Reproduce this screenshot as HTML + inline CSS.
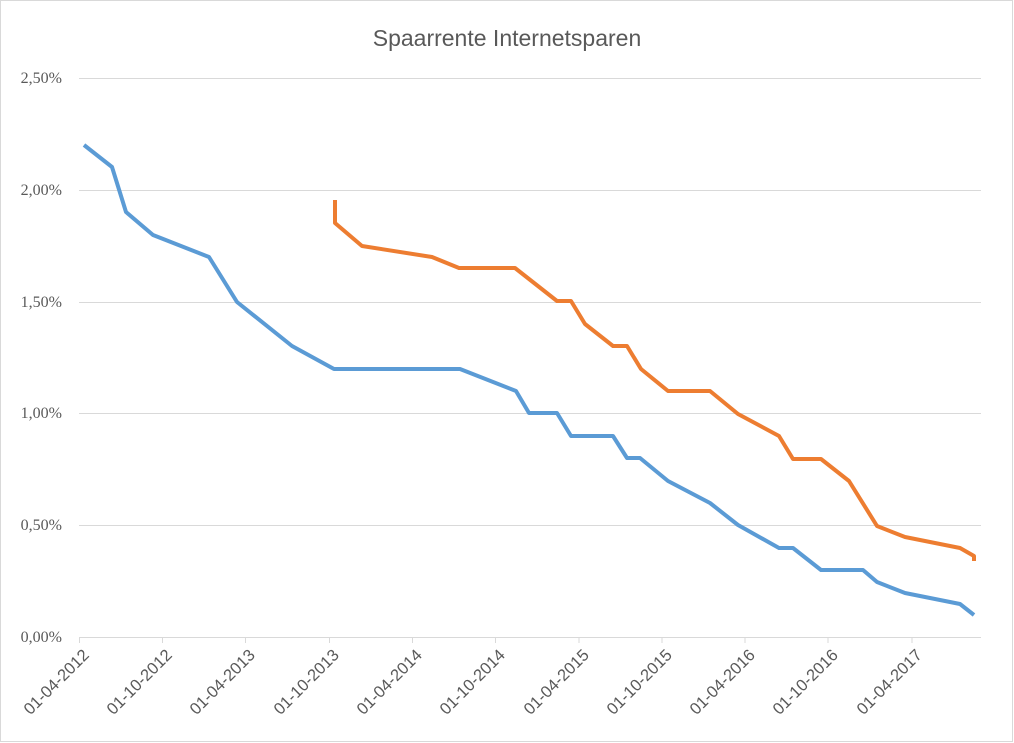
<!DOCTYPE html>
<html><head><meta charset="utf-8"><style>
body{margin:0;background:#fff;}
svg{display:block}
</style></head><body>
<svg width="1014" height="743" viewBox="0 0 1014 743" xmlns="http://www.w3.org/2000/svg">
<rect x="0.5" y="0.5" width="1012" height="741" fill="#fff" stroke="#d9d9d9"/>
<text x="507" y="46" text-anchor="middle" font-family="Liberation Sans, sans-serif" font-size="23" fill="#595959">Spaarrente Internetsparen</text>
<g stroke="#d9d9d9" stroke-width="1">
<line x1="79" y1="78.5" x2="981" y2="78.5"/>
<line x1="79" y1="190.5" x2="981" y2="190.5"/>
<line x1="79" y1="302.5" x2="981" y2="302.5"/>
<line x1="79" y1="413.5" x2="981" y2="413.5"/>
<line x1="79" y1="525.5" x2="981" y2="525.5"/>
<line x1="79" y1="637.5" x2="981" y2="637.5"/>
</g>
<g stroke="#d9d9d9">
<line x1="79.5" y1="637" x2="79.5" y2="643"/><line x1="162.5" y1="637" x2="162.5" y2="643"/><line x1="245.5" y1="637" x2="245.5" y2="643"/><line x1="329.5" y1="637" x2="329.5" y2="643"/><line x1="412.5" y1="637" x2="412.5" y2="643"/><line x1="495.5" y1="637" x2="495.5" y2="643"/><line x1="579" y1="637" x2="579" y2="643"/><line x1="662" y1="637" x2="662" y2="643"/><line x1="745" y1="637" x2="745" y2="643"/><line x1="828" y1="637" x2="828" y2="643"/><line x1="912" y1="637" x2="912" y2="643"/>
</g>
<g font-family="Liberation Serif, serif" font-size="16" fill="#595959" text-anchor="end">
<text x="62" y="83">2,50%</text><text x="62" y="195">2,00%</text><text x="62" y="307">1,50%</text><text x="62" y="418">1,00%</text><text x="62" y="530">0,50%</text><text x="62" y="642">0,00%</text>
</g>
<g font-family="Liberation Sans, sans-serif" font-size="16.5" fill="#595959" text-anchor="end">
<text transform="translate(90,656) rotate(-45)">01-04-2012</text>
<text transform="translate(173,656) rotate(-45)">01-10-2012</text>
<text transform="translate(256,656) rotate(-45)">01-04-2013</text>
<text transform="translate(340,656) rotate(-45)">01-10-2013</text>
<text transform="translate(423,656) rotate(-45)">01-04-2014</text>
<text transform="translate(506,656) rotate(-45)">01-10-2014</text>
<text transform="translate(590,656) rotate(-45)">01-04-2015</text>
<text transform="translate(673,656) rotate(-45)">01-10-2015</text>
<text transform="translate(756,656) rotate(-45)">01-04-2016</text>
<text transform="translate(839,656) rotate(-45)">01-10-2016</text>
<text transform="translate(923,656) rotate(-45)">01-04-2017</text>
</g>
<polyline fill="none" stroke="#5b9bd5" stroke-width="4" stroke-linejoin="round" points="84,145 112,167 126,212 153,235 209,257 237,302 292,346 334,369 460,369 516,391 529,413 557,413 571,436 613,436 627,458 640,458 668,481 710,503 738,525 779,548 793,548 821,570 863,570 877,582 905,593 960,604 974,615"/>
<polyline fill="none" stroke="#ed7d31" stroke-width="4" stroke-linejoin="round" points="335,200 335,223 362,246 432,257 459,268 515,268 557,301 571,301 585,324 613,346 627,346 641,369 668,391 710,391 738,414 779,436 793,459 821,459 849,481 877,526 905,537 960,548 974,556 974,561"/>
</svg>
</body></html>
